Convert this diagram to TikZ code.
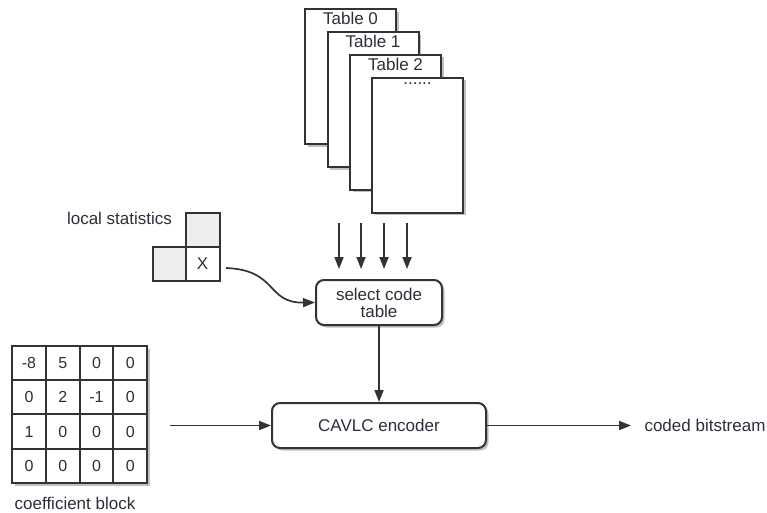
\documentclass[tikz,border=0pt]{standalone}
\usepackage{fontspec}
\setmainfont{Liberation Sans}
\usetikzlibrary{arrows.meta,shadows}
\definecolor{ln}{HTML}{333333}
\definecolor{tx}{HTML}{2E2E3A}
\definecolor{cellgray}{HTML}{EDEDED}
\begin{document}
\begin{tikzpicture}[x=1pt,y=-1pt,
  every node/.style={font=\fontsize{17}{20}\selectfont, text=tx},
  shad/.style={drop shadow={shadow xshift=2.5pt,shadow yshift=-2.5pt,opacity=0.45,fill=black!55}},
  tablebox/.style={draw=ln,line width=2pt,fill=white,minimum width=91pt,minimum height=135pt,inner sep=0pt,shad},
  procbox/.style={draw=ln,line width=2pt,fill=white,rounded corners=8pt,inner sep=0pt,shad,align=center},
  cellbox/.style={draw=ln,line width=2pt,minimum width=34pt,minimum height=34pt,inner sep=0pt},
  conn/.style={draw=ln,line width=1.7pt,-{Triangle[length=12pt,width=9pt]}}]
\useasboundingbox (0,0) rectangle (767,512);
% tables
\node[tablebox] (t0) at (350.5,76.5) {};
\node[anchor=north] (l0) at ([yshift=-1pt]t0.north) {Table 0};
\node[tablebox] (t1) at (373,99.5) {};
\node[anchor=north] (l1) at ([yshift=-1pt]t1.north) {Table 1};
\node[tablebox] (t2) at (395.5,122) {};
\node[anchor=north] (l2) at ([yshift=-1pt]t2.north) {Table 2};
\node[tablebox] (t3) at (417.5,145) {};
\node[anchor=north] (l3) at ([yshift=-3pt]t3.north) {......};
% select code table
\node[procbox,minimum width=126pt,minimum height=45pt] (sel) at (379,302.5) {select code\\[-3pt]table};
% arrows from tables
\foreach \i/\xx in {1/339,2/361,3/384,4/407}{
  \coordinate (a\i) at (\xx,223);
  \coordinate (b\i) at (\xx,269);
  \draw[conn] (a\i) -- (b\i);
}
% local statistics
\node[cellbox,fill=cellgray] (st) at (202.5,230) {};
\node[cellbox,fill=cellgray] (sl) at (169.5,263.5) {};
\node[cellbox,fill=white] (sx) at (202.5,263.5) {X};
\node (lst) at (119.5,218) {local statistics};
\coordinate (cs) at (226,268);
\draw[conn] (cs) .. controls (278,270) and (266,303) .. (sel.west);
% CAVLC encoder
\node[procbox,minimum width=214pt,minimum height=45pt] (cav) at (379,425.5) {CAVLC encoder};
\draw[conn] (sel.south) -- (cav.north);
% coefficient block
\fill[black!55,opacity=0.45] (14.5,348.5) rectangle (149.5,485.5);
\foreach \r/\row in {0/{-8,5,0,0},1/{0,2,-1,0},2/{1,0,0,0},3/{0,0,0,0}}{
  \foreach \v [count=\c from 0] in \row {
    \node[cellbox,minimum width=33.75pt,minimum height=34.25pt,fill=white,font=\fontsize{16}{18}\selectfont] (m\r\c) at (29+\c*33.75,363+\r*34.25) {\v};
  }
}
\node (cb) at (75,503) {coefficient block};
\coordinate (ci) at (170,425.5);
\draw[conn] (ci) -- (cav.west);
% output
\coordinate (co) at (631,425.5);
\draw[conn] (cav.east) -- (co);
\node[anchor=west] (out) at (641,425.5) {coded bitstream};
\end{tikzpicture}
\end{document}
